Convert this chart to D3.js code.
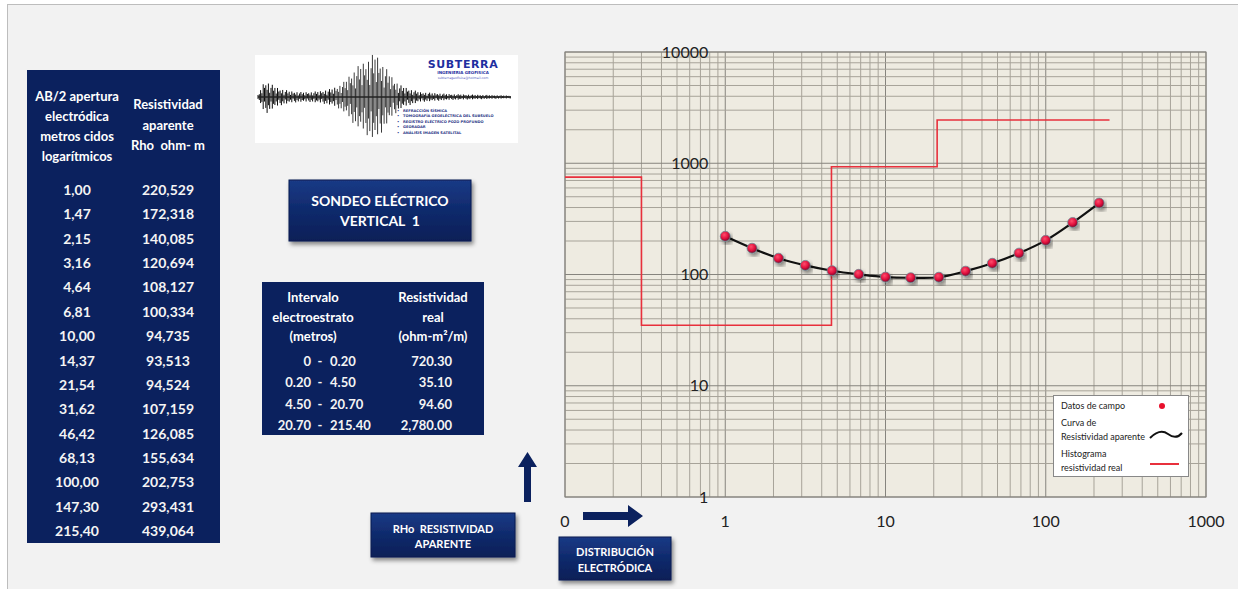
<!DOCTYPE html>
<html>
<head>
<meta charset="utf-8">
<script src="https://cdn.jsdelivr.net/npm/d3@7"></script>
<style>
  body { margin: 0; background: #fff; }
  svg { display: block; font-family: Lato, "Open Sans", sans-serif; }
  text { white-space: pre; }
</style>
</head>
<body>
<svg id="chart" width="1238" height="589"></svg>
<script>
// field data: AB/2 spacing (m) and apparent resistivity (ohm-m)
const abHalf = [1.00, 1.47, 2.15, 3.16, 4.64, 6.81, 10.00, 14.37, 21.54, 31.62, 46.42, 68.13, 100.00, 147.30, 215.40];
const rhoApp = [220.529, 172.318, 140.085, 120.694, 108.127, 100.334, 94.735, 93.513, 94.524, 107.159, 126.085, 155.634, 202.753, 293.431, 439.064];
const abLabels = ['1,00', '1,47', '2,15', '3,16', '4,64', '6,81', '10,00', '14,37', '21,54', '31,62', '46,42', '68,13', '100,00', '147,30', '215,40'];
const rhoLabels = ['220,529', '172,318', '140,085', '120,694', '108,127', '100,334', '94,735', '93,513', '94,524', '107,159', '126,085', '155,634', '202,753', '293,431', '439,064'];

// real resistivity histogram as drawn on the chart (layer edges and values)
const layerEdges = [0.1, 0.3, 4.6, 21, 250];
const layerRho = [750, 35, 930, 2450];

// layer table text
const intervalLabels = [['0', '0.20'], ['0.20', '4.50'], ['4.50', '20.70'], ['20.70', '215.40']];
const realRhoLabels = ['720.30', '35.10', '94.60', '2,780.00'];

// axis ticks
const xDecades = [0.1, 1, 10, 100, 1000];
const xTickLabels = ['0', '1', '10', '100', '1000'];
const yDecades = [1, 10, 100, 1000, 10000];
const yTickLabels = ['1', '10', '100', '1000', '10000'];

// logo waveform envelope (x position, half amplitude)
const waveX = [258, 261, 264, 267, 271, 276, 282, 290, 300, 310, 320, 330, 338, 345, 351, 357, 362, 367, 371, 375, 379, 383, 388, 394, 400, 410, 420, 435, 450, 470, 490, 510];
const waveAmp = [2, 9, 15, 16, 13, 10, 8, 6, 5, 5, 6, 8, 11, 16, 24, 30, 34, 38, 41, 44, 40, 33, 26, 18, 12, 8, 5, 4, 3, 2.5, 2, 1.5];
const waveJitter = [1, 0.55, 0.85, 0.35, 0.95, 0.6, 0.75, 0.45, 0.9, 0.3, 0.7];

const logoServices = ['REFRACCIÓN SÍSMICA', 'TOMOGRAFÍA GEOELÉCTRICA DEL SUBSUELO', 'REGISTRO ELÉCTRICO POZO PROFUNDO', 'GEORADAR', 'ANÁLISIS IMAGEN SATELITAL'];

const navy = '#0b215e';
const svg = d3.select('#chart');
const defs = svg.append('defs');

// page panel
svg.append('rect').attr('x', 7.5).attr('y', 4.5).attr('width', 1240).attr('height', 600)
  .attr('fill', '#f2f2f2').attr('stroke', '#bdbdbd');

// gradients / shadow for the shapes
const grad = defs.append('linearGradient').attr('id', 'boxGrad').attr('x1', 0).attr('y1', 0).attr('x2', 0).attr('y2', 1);
grad.append('stop').attr('offset', '0%').attr('stop-color', '#1a3a86');
grad.append('stop').attr('offset', '50%').attr('stop-color', '#0f2a6c');
grad.append('stop').attr('offset', '100%').attr('stop-color', '#0a1f57');
const shadow = defs.append('filter').attr('id', 'shadow').attr('x', '-10%').attr('y', '-10%').attr('width', '130%').attr('height', '140%');
shadow.append('feDropShadow').attr('dx', 2).attr('dy', 3).attr('stdDeviation', 2).attr('flood-color', '#000').attr('flood-opacity', 0.45);
const dotGrad = defs.append('radialGradient').attr('id', 'dotGrad').attr('cx', '40%').attr('cy', '35%').attr('r', '65%');
dotGrad.append('stop').attr('offset', '0%').attr('stop-color', '#ff4d6d');
dotGrad.append('stop').attr('offset', '60%').attr('stop-color', '#e0103c');
dotGrad.append('stop').attr('offset', '100%').attr('stop-color', '#7a1030');

// ---------- left data table ----------
const t1 = svg.append('g');
t1.append('rect').attr('x', 27).attr('y', 70).attr('width', 193).attr('height', 473).attr('fill', navy);
const h1 = ['AB/2 apertura', 'electródica', 'metros cidos', 'logarítmicos'];
const h2 = ['Resistividad', 'aparente', 'Rho  ohm- m'];
t1.selectAll('.h1').data(h1).enter().append('text')
  .attr('x', 77).attr('y', (d, i) => 101 + i * 20).attr('text-anchor', 'middle')
  .attr('fill', '#fff').attr('font-size', 13).attr('font-weight', 'bold').text(d => d);
t1.selectAll('.h2').data(h2).enter().append('text')
  .attr('x', 168).attr('y', (d, i) => 109 + i * 20.5).attr('text-anchor', 'middle')
  .attr('fill', '#fff').attr('font-size', 13).attr('font-weight', 'bold').text(d => d);
const rowY = d3.scaleLinear().domain([0, abLabels.length - 1]).range([195, 536]);
t1.selectAll('.c1').data(abLabels).enter().append('text')
  .attr('x', 77).attr('y', (d, i) => rowY(i)).attr('text-anchor', 'middle')
  .attr('fill', '#f4f4f4').attr('font-size', 14).attr('font-weight', 'bold').text(d => d);
t1.selectAll('.c2').data(rhoLabels).enter().append('text')
  .attr('x', 168).attr('y', (d, i) => rowY(i)).attr('text-anchor', 'middle')
  .attr('fill', '#f4f4f4').attr('font-size', 14).attr('font-weight', 'bold').text(d => d);

// ---------- logo ----------
const logo = svg.append('g');
logo.append('rect').attr('x', 255).attr('y', 55).attr('width', 263).attr('height', 88).attr('fill', '#fff');
const ampAt = d3.scaleLinear().domain(waveX).range(waveAmp);
const wavePts = d3.range(258, 511, 1.3);
logo.selectAll('.spike').data(wavePts).enter().append('line')
  .attr('x1', d => d).attr('x2', d => d)
  .attr('y1', (d, i) => 97 - ampAt(d) * waveJitter[i % waveJitter.length])
  .attr('y2', (d, i) => 97 + ampAt(d) * waveJitter[(i + 4) % waveJitter.length])
  .attr('stroke', d => (d > 335 && d < 398) ? '#3a3a3a' : '#0d0d0d').attr('stroke-width', 1);
logo.append('line').attr('x1', 258).attr('x2', 511).attr('y1', 97).attr('y2', 97).attr('stroke', '#222').attr('stroke-width', 1.5);
logo.append('text').attr('x', 463).attr('y', 68).attr('text-anchor', 'middle').attr('fill', '#1f2fa0')
  .attr('font-size', 11).attr('font-weight', 900).attr('letter-spacing', 0.6).attr('font-family', 'DejaVu Sans').text('SUBTERRA');
logo.append('text').attr('x', 463).attr('y', 74).attr('text-anchor', 'middle').attr('fill', '#1f2fa0')
  .attr('font-size', 4).attr('font-weight', 'bold').attr('font-family', 'DejaVu Sans').text('INGENIERIA GEOFISICA');
logo.append('text').attr('x', 463).attr('y', 79).attr('text-anchor', 'middle').attr('fill', '#5560c0')
  .attr('font-size', 3.2).attr('font-family', 'DejaVu Sans').text('subterrageofisica@hotmail.com');
logo.selectAll('.svc').data(logoServices).enter().append('text')
  .attr('x', 397).attr('y', (d, i) => 111.5 + i * 5.6).attr('fill', '#2a3585')
  .attr('font-size', 3.6).attr('font-weight', 'bold').attr('font-family', 'DejaVu Sans')
  .text(d => '•   ' + d);

// ---------- title box ----------
svg.append('rect').attr('x', 289).attr('y', 180).attr('width', 182).attr('height', 61)
  .attr('fill', 'url(#boxGrad)').attr('stroke', '#0a1d50').attr('filter', 'url(#shadow)');
svg.selectAll('.ttl').data(['SONDEO ELÉCTRICO', 'VERTICAL  1']).enter().append('text')
  .attr('x', 380).attr('y', (d, i) => 206 + i * 20).attr('text-anchor', 'middle')
  .attr('fill', '#fff').attr('font-size', 14).attr('font-weight', 'bold').text(d => d);

// ---------- layer table ----------
const t2 = svg.append('g');
t2.append('rect').attr('x', 262).attr('y', 282).attr('width', 222).attr('height', 153).attr('fill', navy);
t2.selectAll('.h1').data(['Intervalo', 'electroestrato', '(metros)']).enter().append('text')
  .attr('x', 313).attr('y', (d, i) => 302 + i * 19.5).attr('text-anchor', 'middle')
  .attr('fill', '#fff').attr('font-size', 13).attr('font-weight', 'bold').text(d => d);
t2.selectAll('.h2').data(['Resistividad', 'real', '(ohm-m²/m)']).enter().append('text')
  .attr('x', 433).attr('y', (d, i) => 302 + i * 19.5).attr('text-anchor', 'middle')
  .attr('fill', '#fff').attr('font-size', 13).attr('font-weight', 'bold').text(d => d);
const row2Y = d3.scaleLinear().domain([0, 3]).range([366, 430]);
t2.selectAll('.a').data(intervalLabels).enter().append('text')
  .attr('x', 311).attr('y', (d, i) => row2Y(i)).attr('text-anchor', 'end')
  .attr('fill', '#f4f4f4').attr('font-size', 13).attr('font-weight', 'bold').text(d => d[0]);
t2.selectAll('.dash').data(intervalLabels).enter().append('text')
  .attr('x', 320).attr('y', (d, i) => row2Y(i)).attr('text-anchor', 'middle')
  .attr('fill', '#f4f4f4').attr('font-size', 13).attr('font-weight', 'bold').text('-');
t2.selectAll('.b').data(intervalLabels).enter().append('text')
  .attr('x', 330).attr('y', (d, i) => row2Y(i)).attr('text-anchor', 'start')
  .attr('fill', '#f4f4f4').attr('font-size', 13).attr('font-weight', 'bold').text(d => d[1]);
t2.selectAll('.r').data(realRhoLabels).enter().append('text')
  .attr('x', 452).attr('y', (d, i) => row2Y(i)).attr('text-anchor', 'end')
  .attr('fill', '#f4f4f4').attr('font-size', 13).attr('font-weight', 'bold').text(d => d);

// ---------- arrows and axis caption boxes ----------
svg.append('path').attr('d', 'M524,502 L524,467 L518,467 L527.5,452 L537,467 L531,467 L531,502 Z').attr('fill', navy);
svg.append('path').attr('d', 'M583,512 L628,512 L628,505 L643,516 L628,527 L628,520 L583,520 Z').attr('fill', navy);

svg.append('rect').attr('x', 371).attr('y', 513).attr('width', 144).attr('height', 44)
  .attr('fill', 'url(#boxGrad)').attr('stroke', '#0a1d50').attr('filter', 'url(#shadow)');
svg.selectAll('.rb').data(['RHo  RESISTIVIDAD', 'APARENTE']).enter().append('text')
  .attr('x', 443).attr('y', (d, i) => 533 + i * 15).attr('text-anchor', 'middle')
  .attr('fill', '#fff').attr('font-size', 11).attr('font-weight', 'bold').text(d => d);
svg.append('rect').attr('x', 559).attr('y', 537).attr('width', 112).attr('height', 43)
  .attr('fill', 'url(#boxGrad)').attr('stroke', '#0a1d50').attr('filter', 'url(#shadow)');
svg.selectAll('.db').data(['DISTRIBUCIÓN', 'ELECTRÓDICA']).enter().append('text')
  .attr('x', 615).attr('y', (d, i) => 556 + i * 16).attr('text-anchor', 'middle')
  .attr('fill', '#fff').attr('font-size', 11).attr('font-weight', 'bold').text(d => d);

// ---------- log-log chart ----------
const x = d3.scaleLog().domain([0.1, 1000]).range([565, 1206]);
const y = d3.scaleLog().domain([1, 10000]).range([497, 52]);
const plot = svg.append('g');
plot.append('rect').attr('x', 565).attr('y', 52).attr('width', 641).attr('height', 445).attr('fill', '#eeebe1');

const xGrid = x.ticks(40).filter(v => v <= 1000);
const yGrid = y.ticks(40).filter(v => v <= 10000);
plot.selectAll('.gx').data(xGrid).enter().append('line')
  .attr('x1', d => x(d)).attr('x2', d => x(d)).attr('y1', 52).attr('y2', 497)
  .attr('stroke', d => xDecades.includes(d) ? '#86847e' : '#a7a399').attr('stroke-width', 1);
plot.selectAll('.gy').data(yGrid).enter().append('line')
  .attr('x1', 565).attr('x2', 1206).attr('y1', d => y(d)).attr('y2', d => y(d))
  .attr('stroke', d => yDecades.includes(d) ? '#86847e' : '#a7a399').attr('stroke-width', 1);
plot.append('rect').attr('x', 565).attr('y', 52).attr('width', 641).attr('height', 445)
  .attr('fill', 'none').attr('stroke', '#86847e');

// y axis labels next to the x = 1 line
plot.selectAll('.yl').data(yDecades).enter().append('text')
  .attr('x', x(1) - 17).attr('y', d => y(d)).attr('dy', '0.35em').attr('text-anchor', 'end')
  .attr('fill', '#222').attr('font-size', 16).text((d, i) => yTickLabels[i]);
plot.selectAll('.xl').data(xDecades).enter().append('text')
  .attr('x', d => x(d)).attr('y', 527).attr('text-anchor', 'middle')
  .attr('fill', '#222').attr('font-size', 16).text((d, i) => xTickLabels[i]);

// real resistivity histogram
const histPts = [];
layerRho.forEach((r, i) => { histPts.push([layerEdges[i], r], [layerEdges[i + 1], r]); });
plot.append('path').datum(histPts)
  .attr('d', d3.line().x(d => x(d[0])).y(d => y(d[1])))
  .attr('fill', 'none').attr('stroke', '#e8303c').attr('stroke-width', 1.6);

// apparent resistivity curve and field points
const pts = abHalf.map((a, i) => [a, rhoApp[i]]);
plot.append('path').datum(pts)
  .attr('d', d3.line().x(d => x(d[0])).y(d => y(d[1])).curve(d3.curveCatmullRom))
  .attr('fill', 'none').attr('stroke', '#111').attr('stroke-width', 2.2);
plot.selectAll('.pt').data(pts).enter().append('circle')
  .attr('cx', d => x(d[0])).attr('cy', d => y(d[1])).attr('r', 5)
  .attr('fill', 'url(#dotGrad)').attr('stroke', '#6c8c95').attr('stroke-width', 0.8)
  .attr('filter', 'url(#shadow)');

// legend
const lg = svg.append('g');
lg.append('rect').attr('x', 1053.5).attr('y', 395.5).attr('width', 135).attr('height', 81)
  .attr('fill', '#fff').attr('stroke', '#888');
const lgText = [['Datos de campo', 409], ['Curva de', 426], ['Resistividad aparente', 440], ['Histograma', 457], ['resistividad real', 471]];
lg.selectAll('text').data(lgText).enter().append('text')
  .attr('x', 1061).attr('y', d => d[1]).attr('fill', '#222').attr('font-size', 9).text(d => d[0]);
lg.append('circle').attr('cx', 1162).attr('cy', 406).attr('r', 3).attr('fill', '#e8102c');
lg.append('path').attr('d', 'M1150,438 C1158,430 1164,431 1168,434 C1172,437 1177,439 1182,433')
  .attr('fill', 'none').attr('stroke', '#111').attr('stroke-width', 2);
lg.append('line').attr('x1', 1150).attr('x2', 1179).attr('y1', 464).attr('y2', 464)
  .attr('stroke', '#e8303c').attr('stroke-width', 2);
</script>
</body>
</html>
